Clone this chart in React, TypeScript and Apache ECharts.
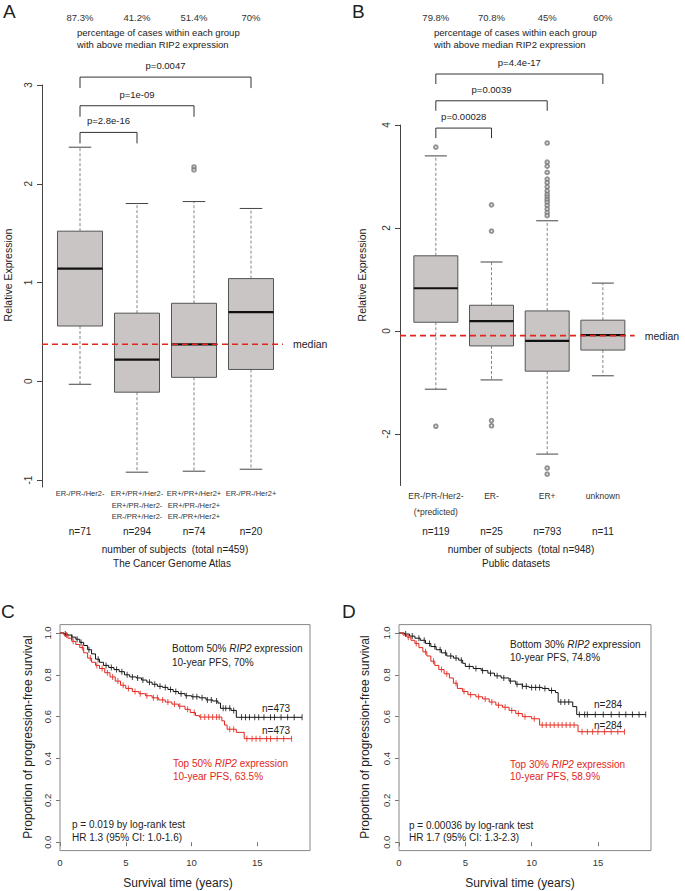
import React, { useEffect, useRef } from "react";
import * as echarts from "echarts";

const FONT = "Liberation Sans, Arial, Helvetica, sans-serif";
const RED = "#e2261c";
const INK = "#222";

// ---------- Panel A (TCGA) ----------
const catsA = [
  "ER-/PR-/Her2-",
  "ER+/PR+/Her2-\nER+/PR-/Her2-\nER-/PR+/Her2-",
  "ER+/PR+/Her2+\nER+/PR-/Her2+\nER-/PR+/Her2+",
  "ER-/PR-/Her2+",
];
const nA = [71, 294, 74, 20];
const pctA = ["87.3%", "41.2%", "51.4%", "70%"];
// [lower whisker, Q1, median, Q3, upper whisker]
const boxA = [
  [-0.03, 0.56, 1.14, 1.52, 2.37],
  [-0.92, -0.11, 0.22, 0.69, 1.8],
  [-0.91, 0.04, 0.375, 0.79, 1.82],
  [-0.89, 0.12, 0.7, 1.04, 1.75],
];
const outliersA = [[], [], [2.17, 2.14], []];
const medianA = 0.375;
const bracketToA = [1, 2, 3];
const bracketYA = [2.52, 2.79, 3.08];
const bracketPA = ["p=2.8e-16", "p=1e-09", "p=0.0047"];
const yTicksA = [-1, 0, 1, 2, 3];

// ---------- Panel B (public datasets) ----------
const catsB = ["ER-/PR-/Her2-\n(*predicted)", "ER-", "ER+", "unknown"];
const nB = [119, 25, 793, 11];
const pctB = ["79.8%", "70.8%", "45%", "60%"];
const boxB = [
  [-1.13, 0.17, 0.83, 1.46, 3.4],
  [-0.95, -0.29, 0.19, 0.5, 1.34],
  [-2.39, -0.78, -0.19, 0.39, 2.14],
  [-0.87, -0.37, -0.08, 0.21, 0.93],
];
const outliersB = [
  [4.7, 3.57, -1.85],
  [2.45, 1.94, -1.74, -1.84],
  [3.65, 3.28, 3.2, 3.08, 2.95, 2.88, 2.8, 2.72, 2.65, 2.6, 2.55, 2.5, 2.44, 2.37, 2.3, 2.24, -2.66, -2.78],
  [],
];
const medianB = -0.09;
const bracketToB = [1, 2, 3];
const bracketYB = [3.94, 4.47, 4.99];
const bracketPB = ["p=0.00028", "p=0.0039", "p=4.4e-17"];
const yTicksB = [-2, 0, 2, 4];

// ---------- Panel C (50% split) ----------
const kmC_low = [
  [0, 1.0], [0.3, 0.995], [0.6, 0.99], [0.9, 0.98], [1.2, 0.97], [1.5, 0.955], [1.8, 0.94],
  [2.1, 0.92], [2.4, 0.9], [2.7, 0.875], [3.0, 0.86], [3.3, 0.845], [3.7, 0.835], [4.1, 0.825],
  [4.5, 0.815], [4.9, 0.8], [5.3, 0.79], [5.8, 0.785], [6.2, 0.775], [6.6, 0.765], [7.0, 0.755],
  [7.4, 0.745], [7.8, 0.74], [8.2, 0.73], [8.6, 0.72], [9.0, 0.71], [9.5, 0.7], [10.0, 0.695],
  [10.6, 0.69], [11.1, 0.68], [11.6, 0.675], [12.0, 0.665], [12.2, 0.64], [13.0, 0.63],
  [13.4, 0.597], [18.4, 0.597],
];
const kmC_high = [
  [0, 1.0], [0.3, 0.99], [0.6, 0.975], [0.9, 0.96], [1.2, 0.945], [1.5, 0.93], [1.8, 0.905],
  [2.1, 0.88], [2.4, 0.86], [2.7, 0.845], [3.0, 0.83], [3.4, 0.81], [3.8, 0.79], [4.2, 0.77],
  [4.6, 0.75], [5.0, 0.735], [5.5, 0.72], [6.0, 0.71], [6.5, 0.7], [7.0, 0.69], [7.5, 0.68],
  [8.0, 0.67], [8.5, 0.66], [9.0, 0.65], [9.5, 0.635], [9.9, 0.62], [10.3, 0.605], [10.6, 0.598],
  [12.3, 0.58], [12.5, 0.56], [12.7, 0.54], [13.4, 0.525], [14.0, 0.495], [17.6, 0.495],
];
const censC_low = [0.4, 0.9, 1.3, 1.6, 2.2, 2.9, 3.5, 3.9, 4.3, 4.7, 5.1, 5.5, 5.9, 6.3, 6.8, 7.2, 7.6, 8.0, 8.4, 8.8, 9.2, 9.6, 10.1, 10.4, 10.8, 11.2, 11.5, 11.9, 12.4, 12.6, 12.9, 13.2, 13.8, 14.1, 14.4, 14.8, 15.1, 15.5, 16.0, 16.3, 16.8, 17.3, 17.8, 18.4];
const censC_high = [0.5, 1.0, 1.7, 2.3, 2.8, 3.2, 3.6, 4.0, 4.4, 4.8, 5.2, 5.7, 6.1, 6.6, 7.1, 7.4, 7.8, 8.2, 8.7, 9.1, 9.7, 10.2, 10.7, 11.0, 11.3, 11.6, 11.9, 12.1, 12.9, 13.2, 14.2, 14.6, 14.9, 15.2, 15.7, 16.0, 16.5, 17.0, 17.6];

// ---------- Panel D (30% split) ----------
const kmD_low = [
  [0, 1.0], [0.4, 0.995], [0.8, 0.985], [1.2, 0.975], [1.6, 0.965], [2.0, 0.95], [2.4, 0.935],
  [2.8, 0.92], [3.2, 0.905], [3.6, 0.89], [4.1, 0.88], [4.5, 0.87], [4.8, 0.855], [5.0, 0.84],
  [5.6, 0.83], [6.2, 0.82], [6.7, 0.808], [7.2, 0.795], [7.7, 0.785], [8.3, 0.77], [8.8, 0.755],
  [9.3, 0.745], [9.8, 0.74], [10.8, 0.735], [11.3, 0.725], [11.8, 0.715], [12.0, 0.67],
  [13.1, 0.648], [13.4, 0.61], [18.6, 0.61],
];
const kmD_high = [
  [0, 1.0], [0.3, 0.99], [0.6, 0.98], [0.9, 0.965], [1.2, 0.95], [1.5, 0.93], [1.8, 0.91],
  [2.1, 0.89], [2.4, 0.865], [2.7, 0.845], [3.0, 0.825], [3.4, 0.805], [3.8, 0.785], [4.1, 0.76],
  [4.4, 0.735], [4.8, 0.72], [5.2, 0.705], [5.8, 0.695], [6.3, 0.685], [6.8, 0.67], [7.3, 0.655],
  [7.8, 0.645], [8.3, 0.63], [8.8, 0.615], [9.3, 0.6], [10.0, 0.59], [10.6, 0.56], [13.5, 0.528],
  [17.0, 0.528],
];
const censD_low = [0.5, 1.0, 1.5, 1.9, 2.3, 2.7, 3.1, 3.5, 3.9, 4.3, 4.7, 5.3, 5.8, 6.3, 6.9, 7.4, 7.9, 8.4, 8.9, 9.3, 9.6, 10.0, 10.3, 10.6, 11.0, 11.5, 12.2, 12.5, 12.8, 13.6, 14.0, 14.2, 14.8, 15.4, 16.0, 16.6, 17.1, 17.6, 18.1, 18.6];
const censD_high = [0.7, 1.3, 2.0, 2.6, 3.2, 3.6, 4.3, 4.9, 5.4, 6.0, 6.5, 7.0, 7.5, 8.0, 8.5, 9.0, 9.5, 10.2, 10.8, 11.1, 11.4, 11.7, 12.0, 12.3, 12.6, 12.9, 13.2, 13.8, 14.2, 14.6, 15.0, 15.5, 16.0, 16.5, 17.0];

const kmXTicks = [0, 5, 10, 15];
const kmYTicks = [0, 0.2, 0.4, 0.6, 0.8, 1.0];

// survival value of a step curve at time t (lookup, for placing censor marks)
function survAt(steps: number[][], t: number) {
  let s = steps[0][1];
  for (const p of steps) if (p[0] <= t) s = p[1];
  return s;
}

function boxRender(params: any, api: any) {
  const idx = api.value(0);
  const lo = api.coord([idx, api.value(1)]);
  const q1 = api.coord([idx, api.value(2)]);
  const md = api.coord([idx, api.value(3)]);
  const q3 = api.coord([idx, api.value(4)]);
  const hi = api.coord([idx, api.value(5)]);
  const bw = api.size([1, 0])[0] * 0.79;
  const x = md[0];
  const cap = bw / 4;
  const dash = { stroke: "#666", lineWidth: 0.8, lineDash: [3, 2] };
  const solid = { stroke: "#444", lineWidth: 1 };
  return {
    type: "group",
    children: [
      { type: "line", shape: { x1: x, y1: q3[1], x2: x, y2: hi[1] }, style: dash },
      { type: "line", shape: { x1: x, y1: q1[1], x2: x, y2: lo[1] }, style: dash },
      { type: "line", shape: { x1: x - cap, y1: hi[1], x2: x + cap, y2: hi[1] }, style: solid },
      { type: "line", shape: { x1: x - cap, y1: lo[1], x2: x + cap, y2: lo[1] }, style: solid },
      {
        type: "rect",
        shape: { x: x - bw / 2, y: q3[1], width: bw, height: q1[1] - q3[1] },
        style: { fill: "#c9c5c5", stroke: "#555", lineWidth: 1 },
      },
      { type: "line", shape: { x1: x - bw / 2, y1: md[1], x2: x + bw / 2, y2: md[1] }, style: { stroke: "#111", lineWidth: 2.2 } },
    ],
  };
}

function makeBracketRender(labels: string[], leg: number) {
  return (params: any, api: any) => {
    const p0 = api.coord([api.value(0), api.value(2)]);
    const p1 = api.coord([api.value(1), api.value(2)]);
    return {
      type: "group",
      children: [
        {
          type: "polyline",
          shape: { points: [[p0[0], p0[1] + leg], [p0[0], p0[1]], [p1[0], p1[1]], [p1[0], p1[1] + leg]] },
          style: { stroke: "#333", lineWidth: 1, fill: null },
        },
        {
          type: "text",
          x: (p0[0] + p1[0]) / 2,
          y: p0[1] - 11.5,
          style: { text: labels[params.dataIndex], fontSize: 9.5, fontFamily: FONT, fill: INK, align: "center", verticalAlign: "middle" },
        },
      ],
    };
  };
}

function makeMedianRender(leftExt: number, rightExt: number) {
  return (params: any, api: any) => {
    const cs = params.coordSys;
    const y = api.coord([0, api.value(1)])[1];
    const x2 = cs.x + cs.width + rightExt;
    return {
      type: "group",
      children: [
        { type: "line", shape: { x1: cs.x - leftExt, y1: y, x2, y2: y }, style: { stroke: RED, lineWidth: 1.6, lineDash: [6, 4] } },
        { type: "text", x: x2 + 10, y, style: { text: "median", fontSize: 10.5, fontFamily: FONT, fill: INK, align: "left", verticalAlign: "middle" } },
      ],
    };
  };
}

function catFormatter(cats: string[], ns: number[], nLines: number) {
  return (value: string, index: number) => {
    const lines = cats[index].split("\n");
    while (lines.length < nLines) lines.push(" ");
    return lines.map((l) => `{c|${l}}`).join("\n") + `\n{n|n=${ns[index]}}`;
  };
}

function txt(text: string, x: number, y: number, o: any = {}) {
  return {
    type: "text",
    x,
    y,
    rotation: o.rot ? Math.PI / 2 : 0,
    style: {
      text,
      fontSize: o.size || 10,
      fontFamily: FONT,
      fill: o.color || INK,
      align: o.align || "left",
      verticalAlign: "middle",
      rich: { i: { fontStyle: "italic", fontSize: o.size || 10, fontFamily: FONT, fill: o.color || INK } },
    },
  };
}

export default function App() {
  const ref = useRef<HTMLDivElement>(null);
  useEffect(() => {
    document.body.style.margin = "0";
    const chart = echarts.init(ref.current!, null, { renderer: "svg" });

    const grids = [
      { left: 51.5, top: 85, width: 228, height: 402 },
      { left: 408, top: 125, width: 222.7, height: 360.5 },
      { left: 60, top: 624.6, width: 250, height: 226, show: true, borderColor: "#888", borderWidth: 1 },
      { left: 399, top: 624.6, width: 252, height: 226, show: true, borderColor: "#888", borderWidth: 1 },
    ];

    const hiddenCat = (gridIndex: number, data: string[], position: string) => ({
      type: "category",
      gridIndex,
      data,
      position,
      axisLine: { show: false },
      axisTick: { show: false },
      splitLine: { show: false },
    });

    const xAxis: any[] = [
      {
        ...hiddenCat(0, catsA, "bottom"),
        axisLabel: {
          interval: 0,
          margin: 1,
          lineHeight: 11.5,
          formatter: catFormatter(catsA, nA, 3),
          rich: {
            c: { fontSize: 7.5, lineHeight: 11.5, fontFamily: FONT, color: "#333" },
            n: { fontSize: 10, lineHeight: 18.5, fontFamily: FONT, color: INK },
          },
        },
      },
      { ...hiddenCat(0, pctA, "top"), axisLabel: { interval: 0, margin: 63, fontSize: 9.5, fontFamily: FONT, color: "#333" } },
      {
        ...hiddenCat(1, catsB, "bottom"),
        axisLabel: {
          interval: 0,
          margin: 2.5,
          lineHeight: 16,
          formatter: catFormatter(catsB, nB, 2),
          rich: {
            c: { fontSize: 8.5, lineHeight: 16, fontFamily: FONT, color: "#333" },
            n: { fontSize: 10, lineHeight: 22, fontFamily: FONT, color: INK },
          },
        },
      },
      { ...hiddenCat(1, pctB, "top"), axisLabel: { interval: 0, margin: 103, fontSize: 9.5, fontFamily: FONT, color: "#333" } },
    ];
    for (const g of [2, 3]) {
      xAxis.push({
        type: "value",
        gridIndex: g,
        min: 0,
        max: 19,
        axisLine: { show: false },
        splitLine: { show: false },
        axisTick: { show: true, length: 4, lineStyle: { color: "#777" }, customValues: kmXTicks },
        axisLabel: { customValues: kmXTicks, fontSize: 9.5, fontFamily: FONT, color: "#333", margin: 7 },
      });
    }

    const boxY = (gridIndex: number, min: number, max: number, offset: number, ticks: number[]) => ({
      type: "value",
      gridIndex,
      min,
      max,
      offset,
      splitLine: { show: false },
      axisLine: { show: true, onZero: false, lineStyle: { color: "#444", width: 1 } },
      axisTick: { show: true, length: 5, lineStyle: { color: "#444" }, customValues: ticks },
      axisLabel: { customValues: ticks, rotate: 90, fontSize: 10, fontFamily: FONT, color: "#333", margin: 9 },
    });
    const yAxis: any[] = [boxY(0, -1.07, 3, 9.5, yTicksA), boxY(1, -3, 4, 8, yTicksB)];
    for (const g of [2, 3]) {
      yAxis.push({
        type: "value",
        gridIndex: g,
        min: -0.04,
        max: 1.04,
        splitLine: { show: false },
        axisLine: { show: false },
        axisTick: { show: true, length: 4, lineStyle: { color: "#777" }, customValues: kmYTicks },
        axisLabel: {
          customValues: kmYTicks,
          rotate: 90,
          fontSize: 9.5,
          fontFamily: FONT,
          color: "#333",
          margin: 8,
          formatter: (v: number) => v.toFixed(1),
        },
      });
    }

    const series: any[] = [];
    const addBoxPanel = (
      xi: number, yi: number, boxes: number[][], outs: number[][], median: number,
      bTo: number[], bY: number[], bP: string[], leg: number, leftExt: number, rightExt: number
    ) => {
      series.push({
        type: "custom",
        xAxisIndex: xi,
        yAxisIndex: yi,
        renderItem: boxRender,
        clip: false,
        encode: { x: 0, y: [1, 2, 3, 4, 5] },
        data: boxes.map((b, i) => [i, ...b]),
        z: 2,
      });
      const od: number[][] = [];
      outs.forEach((arr, i) => arr.forEach((v) => od.push([i, v])));
      series.push({
        type: "scatter",
        xAxisIndex: xi,
        yAxisIndex: yi,
        symbol: "emptyCircle",
        symbolSize: 3.6,
        itemStyle: { color: "#777", borderColor: "#777", borderWidth: 0.6 },
        data: od,
        z: 6,
      });
      series.push({
        type: "custom",
        xAxisIndex: xi,
        yAxisIndex: yi,
        renderItem: makeMedianRender(leftExt, rightExt),
        clip: false,
        encode: { x: 0, y: 1 },
        data: [[0, median]],
        z: 5,
      });
      series.push({
        type: "custom",
        xAxisIndex: xi,
        yAxisIndex: yi,
        renderItem: makeBracketRender(bP, leg),
        clip: false,
        encode: { x: [0, 1], y: 2 },
        data: bTo.map((t, i) => [0, t, bY[i]]),
        z: 4,
      });
    };
    addBoxPanel(0, 0, boxA, outliersA, medianA, bracketToA, bracketYA, bracketPA, 11, 9.5, 3.5);
    addBoxPanel(2, 1, boxB, outliersB, medianB, bracketToB, bracketYB, bracketPB, 10, 8, 4);

    const addKM = (xi: number, yi: number, steps: number[][], cens: number[], color: string) => {
      series.push({
        type: "line",
        xAxisIndex: xi,
        yAxisIndex: yi,
        step: "end",
        showSymbol: false,
        lineStyle: { color, width: 1 },
        data: steps,
        z: 3,
      });
      series.push({
        type: "scatter",
        xAxisIndex: xi,
        yAxisIndex: yi,
        symbol: "rect",
        symbolSize: [1, 6],
        itemStyle: { color },
        data: cens.map((t) => [t, survAt(steps, t)]),
        z: 4,
      });
    };
    addKM(4, 2, kmC_low, censC_low, "#111");
    addKM(4, 2, kmC_high, censC_high, RED);
    addKM(5, 3, kmD_low, censD_low, "#111");
    addKM(5, 3, kmD_high, censD_high, RED);

    const graphic: any[] = [
      txt("A", 3, 11.5, { size: 19 }),
      txt("B", 352, 11.5, { size: 19 }),
      txt("C", 1, 611, { size: 19 }),
      txt("D", 342, 611, { size: 19 }),
      txt("percentage of cases within each group", 77, 32, { size: 9.5 }),
      txt("with above median RIP2 expression", 77, 44, { size: 9.5 }),
      txt("percentage of cases within each group", 434, 32, { size: 9.5 }),
      txt("with above median RIP2 expression", 434, 44, { size: 9.5 }),
      txt("number of subjects  (total n=459)", 175, 549, { align: "center" }),
      txt("The Cancer Genome Atlas", 172, 563, { align: "center" }),
      txt("number of subjects  (total n=948)", 521, 549, { align: "center" }),
      txt("Public datasets", 516, 563, { align: "center" }),
      txt("Relative Expression", 8, 275, { rot: true, align: "center", size: 10.5 }),
      txt("Relative Expression", 362, 275, { rot: true, align: "center", size: 10.5 }),
      txt("Proportion of progression-free survival", 28, 737, { rot: true, align: "center", size: 12 }),
      txt("Proportion of progression-free survival", 365, 737, { rot: true, align: "center", size: 12 }),
      txt("Survival time (years)", 178, 883, { align: "center", size: 12 }),
      txt("Survival time (years)", 520, 883, { align: "center", size: 12 }),
      txt("Bottom 50% {i|RIP2} expression", 172, 648),
      txt("10-year PFS, 70%", 172, 662),
      txt("n=473", 262, 708),
      txt("n=473", 262, 730),
      txt("Top 50% {i|RIP2} expression", 173, 763, { color: RED }),
      txt("10-year PFS, 63.5%", 173, 776, { color: RED }),
      txt("p = 0.019 by log-rank test", 72, 824),
      txt("HR 1.3 (95% CI: 1.0-1.6)", 72, 837),
      txt("Bottom 30% {i|RIP2} expression", 510, 644),
      txt("10-year PFS, 74.8%", 510, 657),
      txt("n=284", 594, 704),
      txt("n=284", 594, 725),
      txt("Top 30% {i|RIP2} expression", 510, 764, { color: RED }),
      txt("10-year PFS, 58.9%", 510, 776, { color: RED }),
      txt("p = 0.00036 by log-rank test", 409, 825),
      txt("HR 1.7 (95% CI: 1.3-2.3)", 409, 837),
    ];

    chart.setOption({
      animation: false,
      backgroundColor: "#fff",
      textStyle: { fontFamily: FONT },
      grid: grids,
      xAxis,
      yAxis,
      series,
      graphic,
    });
    return () => chart.dispose();
  }, []);
  return <div ref={ref} style={{ width: 685, height: 891 }} />;
}
